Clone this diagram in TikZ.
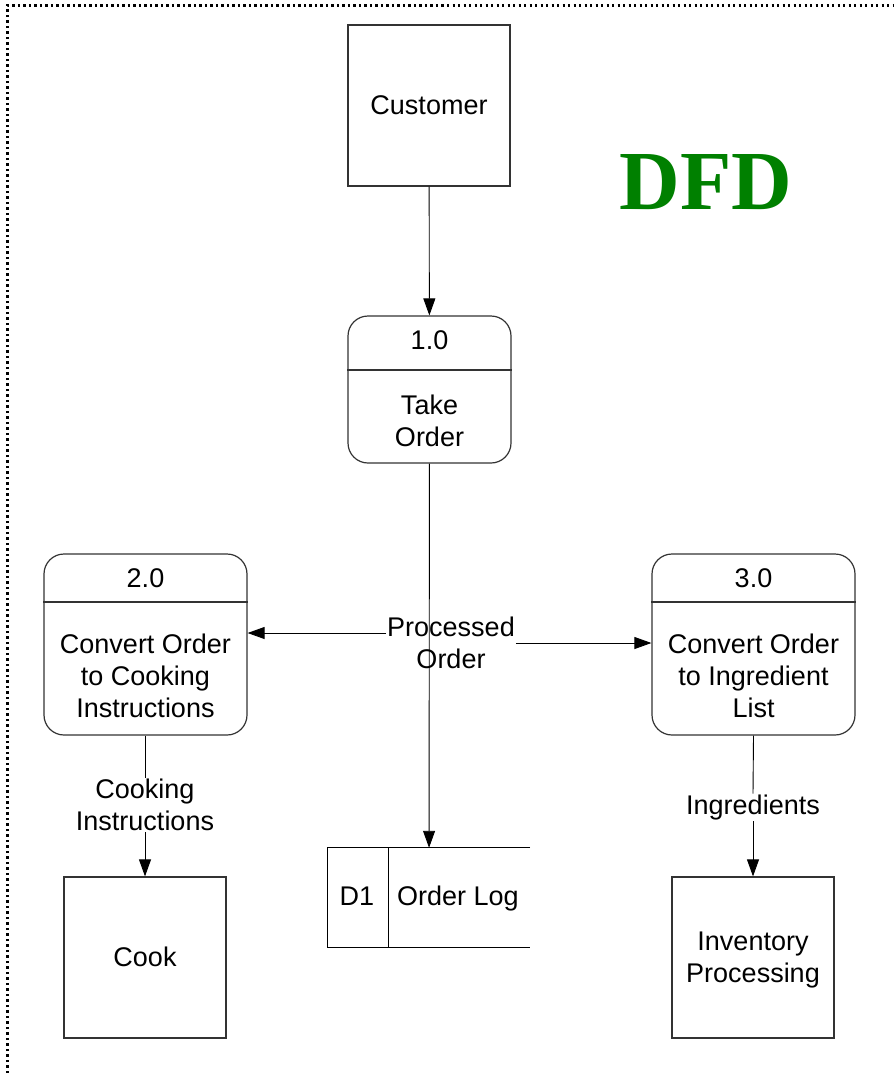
\documentclass[tikz,border=0pt]{standalone}
\usepackage{fontspec}
\setmainfont{Liberation Sans}
\newfontfamily\titlefont{Liberation Serif}
\usetikzlibrary{arrows.meta}
\definecolor{dfdgreen}{HTML}{008000}
\tikzset{
  txt/.style={font=\fontsize{27}{32}\selectfont, align=center, inner sep=1pt},
  entity/.style={draw=black!80, line width=1.2pt, minimum width=162pt, minimum height=161pt, inner sep=0pt},
  proc/.style={draw=black!80, line width=1.2pt, rounded corners=20pt, inner sep=0pt},
  flow/.style={draw=black, line width=0.9pt, -{Triangle[length=17pt,width=12pt]}},
  plain/.style={draw=black, line width=0.9pt},
  frame/.style={draw=black, line width=2.2pt, dash pattern=on 2.2pt off 3.3pt}
}
\begin{document}
\begin{tikzpicture}[x=1pt,y=-1pt]
\useasboundingbox (0,0) rectangle (894,1073);

% page frame (top and left edges)
\coordinate (fr0) at (7.5,1073);
\coordinate (fr1) at (7.5,5.5);
\coordinate (fr2) at (894,5.5);
\draw[frame] (fr0) -- (fr1) -- (fr2);

% title
\node[font=\titlefont\bfseries\fontsize{84}{84}\selectfont, text=dfdgreen, inner sep=0pt] (title) at (706,182) {DFD};

% external entities
\node[entity] (cust) at (429,105.5) {};
\node[txt] (custtxt) at (429,105) {Customer};
\node[entity] (cook) at (145,957.5) {};
\node[txt] (cooktxt) at (145,957) {Cook};
\node[entity] (inv) at (753,957.5) {};
\node[txt] (invtxt) at (753,960) {Inventory\\Processing};

% process 1.0
\node[proc, minimum width=163pt, minimum height=147pt] (p1) at (429.5,389.5) {};
\draw[plain, draw=black!80, line width=1.2pt] (p1.west |- 0,370) -- (p1.east |- 0,370);
\node[txt] (p1id) at (429.5,340) {1.0};
\node[txt] (p1txt) at (429.5,421) {Take\\Order};

% process 2.0
\node[proc, minimum width=203pt, minimum height=181pt] (p2) at (145.5,644.5) {};
\draw[plain, draw=black!80, line width=1.2pt] (p2.west |- 0,602) -- (p2.east |- 0,602);
\node[txt] (p2id) at (145.5,578) {2.0};
\node[txt] (p2txt) at (145.5,676) {Convert Order\\to Cooking\\Instructions};

% process 3.0
\node[proc, minimum width=203pt, minimum height=181pt] (p3) at (753.5,644.5) {};
\draw[plain, draw=black!80, line width=1.2pt] (p3.west |- 0,602) -- (p3.east |- 0,602);
\node[txt] (p3id) at (753.5,578) {3.0};
\node[txt] (p3txt) at (753.5,676) {Convert Order\\to Ingredient\\List};

% data store D1 (open on the right)
\node[minimum width=202pt, minimum height=99pt, inner sep=0pt] (ds) at (429,897.5) {};
\draw[plain, line width=1.2pt] (ds.north east) -- (ds.north west) -- (ds.south west) -- (ds.south east);
\draw[plain] (388,848) -- (388,947);
\node[txt] (dsid) at (357,896) {D1};
\node[txt] (dstxt) at (458,899) {Order Log};

% data flows
\draw[flow] (cust) -- (p1);
\draw[flow] (p1) -- (ds);
\node[txt] (po) at (451,643) {Processed\\Order};
\draw[flow] (po.west |- 0,633) -- (p2.east |- 0,633);
\draw[flow] (po.east |- 0,643) -- (p3.west |- 0,643);

\node[txt] (ci) at (145,805) {Cooking\\Instructions};
\draw[plain] (p2.south -| ci) -- (ci.north);
\draw[flow] (ci.south) -- (cook.north);

\node[txt] (ing) at (753,807.5) {Ingredients};
\draw[plain] (p3.south) -- (ing.north);
\draw[flow] (ing.south) -- (inv.north);
\end{tikzpicture}
\end{document}
